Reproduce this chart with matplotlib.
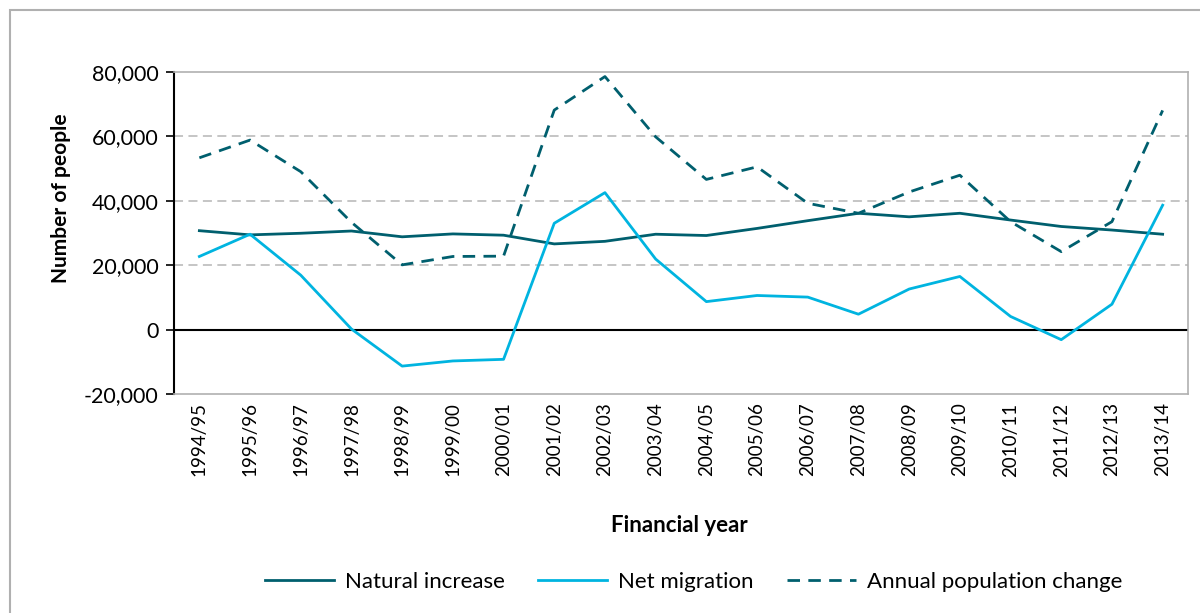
import matplotlib.pyplot as plt
from matplotlib.patches import Rectangle
from matplotlib.ticker import FuncFormatter

plt.rcParams['font.family'] = ['Lato', 'DejaVu Sans']

years = ['1994/95', '1995/96', '1996/97', '1997/98', '1998/99', '1999/00',
         '2000/01', '2001/02', '2002/03', '2003/04', '2004/05', '2005/06',
         '2006/07', '2007/08', '2008/09', '2009/10', '2010/11', '2011/12',
         '2012/13', '2013/14']

natural_increase = [30700, 29400, 29900, 30600, 28800, 29700, 29300, 26600,
                    27400, 29600, 29200, 31400, 33800, 36100, 35000, 36100,
                    34000, 32000, 30900, 29600]
net_migration = [22700, 29600, 16900, 200, -11300, -9700, -9200, 33000,
                 42500, 21900, 8700, 10600, 10100, 4800, 12600, 16500,
                 4100, -3100, 7900, 38600]
annual_change = [53300, 58800, 49000, 33300, 20100, 22700, 22800, 68100,
                 78500, 59800, 46600, 50500, 39200, 36100, 42700, 47900,
                 33500, 24200, 33500, 68000]

dark_teal = '#005f6e'
light_blue = '#00b4e0'

fig = plt.figure(figsize=(12, 6.13), dpi=100)
ax = fig.add_axes([0.145, 0.357, 0.845, 0.526])

x = range(len(years))
ax.plot(x, natural_increase, color=dark_teal, lw=2, label='Natural increase')
ax.plot(x, net_migration, color=light_blue, lw=2, label='Net migration')
ax.plot(x, annual_change, color=dark_teal, lw=2, ls=(0, (4.5, 3)),
        label='Annual population change')

ax.set_xlim(-0.5, len(years) - 0.5)
ax.set_ylim(-20000, 80000)
ax.set_yticks(range(-20000, 80001, 20000))
ax.yaxis.set_major_formatter(FuncFormatter(lambda v, p: f'{int(v):,}'))
ax.set_xticks(list(x))
ax.set_xticklabels(years, rotation=90)
ax.tick_params(axis='x', length=0, labelsize=13.5, pad=6)
ax.tick_params(axis='y', length=6, width=1.2, labelsize=15.5, pad=5)

for v in [20000, 40000, 60000]:
    ax.axhline(v, color='#c0c0c0', lw=1.3, ls=(0, (5, 3)), zorder=0)
ax.axhline(0, color='black', lw=1.5, zorder=1)

for side in ['top', 'right', 'bottom']:
    ax.spines[side].set_color('#b0b0b0')
    ax.spines[side].set_linewidth(1.2)
ax.spines['left'].set_color('black')
ax.spines['left'].set_linewidth(1.5)

fig.text(0.051, 1 - 198 / 613, 'Number of people', rotation=90, fontsize=15,
         fontweight='bold', ha='center', va='center')
fig.text(0.566, 1 - 525 / 613, 'Financial year', fontsize=16,
         fontweight='bold', ha='center', va='center')

fig.legend(loc='center', bbox_to_anchor=(0.578, 1 - 582 / 613), ncol=3,
           frameon=False, fontsize=16, handlelength=3.1, columnspacing=1.5,
           handletextpad=0.5)

fig.patches.append(Rectangle((0.008, -0.05), 1.2, 1.033, transform=fig.transFigure,
                             fill=False, edgecolor='#b0b0b0', lw=1.5))

fig.savefig('out.png', dpi=100)
